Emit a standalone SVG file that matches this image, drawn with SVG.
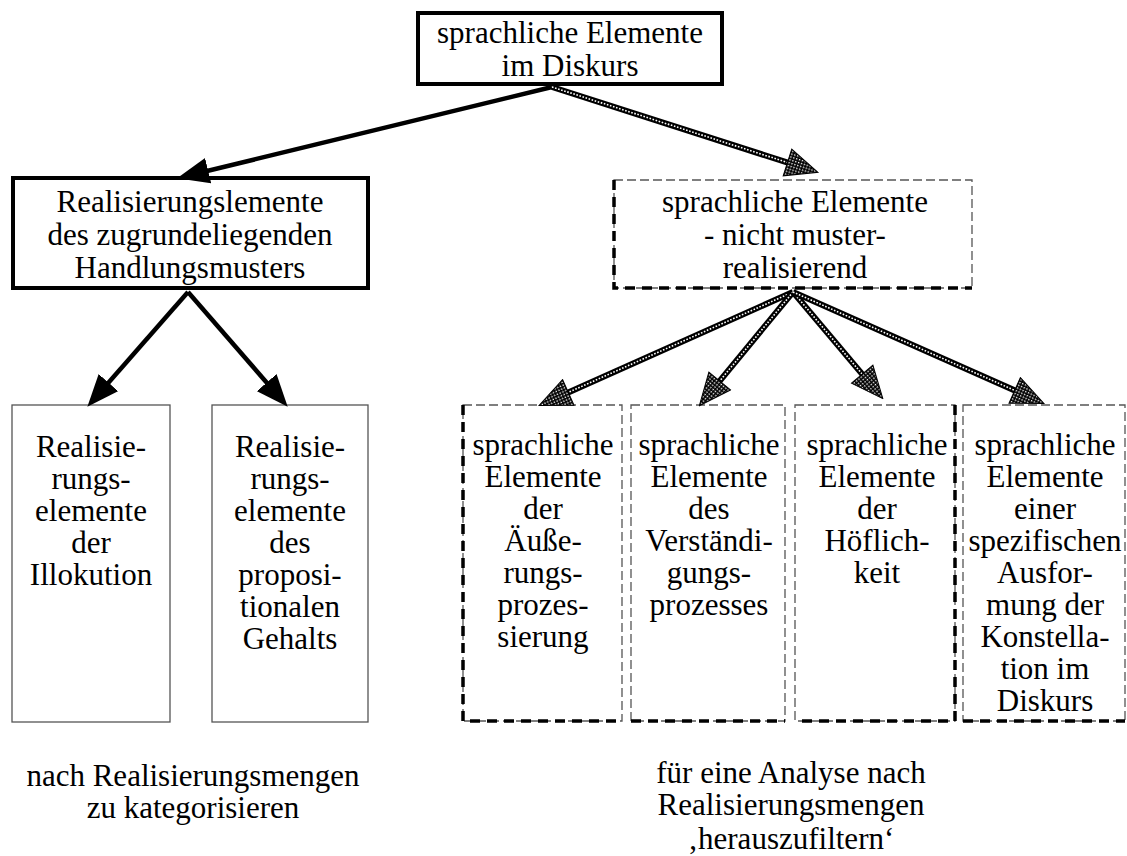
<svg xmlns="http://www.w3.org/2000/svg" width="1127" height="856" viewBox="0 0 1127 856" font-family="'Liberation Serif', 'DejaVu Serif', serif">
<style>
text{font-family:'Liberation Serif','DejaVu Serif',serif;font-size:31px;fill:#000;text-anchor:middle}
.bold{fill:#fff;stroke:#000;stroke-width:4}
.thin{fill:#fff;stroke:#555;stroke-width:1.3}
.dthin{fill:#fff;stroke:#555;stroke-width:1.3;stroke-dasharray:9 4}
.dthick{fill:none;stroke:#000;stroke-width:3.5;stroke-dasharray:10 7}
.solid{fill:none;stroke:#000;stroke-width:4.5}
.hb{fill:none;stroke:#000;stroke-width:6}
.hw{fill:none;stroke:#fff;stroke-width:1.6;stroke-dasharray:1.6 1.6}
</style>
<defs>
<pattern id="chk" width="3" height="3" patternUnits="userSpaceOnUse"><rect width="3" height="3" fill="#000"/><rect x="1" y="1" width="1.4" height="1.4" fill="#fff"/></pattern>
<marker id="ah" markerUnits="userSpaceOnUse" viewBox="0 0 32 26" markerWidth="32" markerHeight="26" refX="16" refY="13" orient="auto"><path d="M0,0 L32,13 L0,26 z" fill="#000"/></marker>
<marker id="ahh" markerUnits="userSpaceOnUse" viewBox="-1 -1 34 30" markerWidth="34" markerHeight="30" refX="16" refY="14" orient="auto"><path d="M0,0 L32,14 L0,28 z" fill="url(#chk)" stroke="#000" stroke-width="1"/></marker>
</defs>
<g id="n-top">
<rect class="bold" x="418" y="13" width="304" height="71"/>
<text x="570" y="43">sprachliche Elemente</text>
<text x="570" y="76">im Diskurs</text>
</g>
<g id="n-muster">
<rect class="bold" x="13" y="178" width="355" height="110"/>
<text x="190" y="212">Realisierungslemente</text>
<text x="190" y="245">des zugrundeliegenden</text>
<text x="190" y="278">Handlungsmusters</text>
</g>
<g id="n-nicht">
<rect class="dthin" x="614" y="180" width="358" height="108"/>
<path class="dthick" d="M614,180 V288 H972"/>
<text x="795" y="212">sprachliche Elemente</text>
<text x="795" y="245">- nicht muster-</text>
<text x="795" y="278">realisierend</text>
</g>
<g id="n-illok">
<rect class="thin" x="12" y="405" width="158" height="317"/>
<text x="91" y="457">Realisie-</text>
<text x="91" y="489">rungs-</text>
<text x="91" y="521">elemente</text>
<text x="91" y="553">der</text>
<text x="91" y="585">Illokution</text>
</g>
<g id="n-prop">
<rect class="thin" x="212" y="405" width="156" height="317"/>
<text x="290" y="457">Realisie-</text>
<text x="290" y="489">rungs-</text>
<text x="290" y="521">elemente</text>
<text x="290" y="553">des</text>
<text x="290" y="585">proposi-</text>
<text x="290" y="617">tionalen</text>
<text x="290" y="649">Gehalts</text>
</g>
<g id="n-aeuss">
<rect class="dthin" x="463" y="405" width="159" height="316"/>
<path class="dthick" d="M463,405 V721 H622"/>
<text x="543" y="455">sprachliche</text>
<text x="543" y="487">Elemente</text>
<text x="543" y="519">der</text>
<text x="543" y="551">Äuße-</text>
<text x="543" y="583">rungs-</text>
<text x="543" y="615">prozes-</text>
<text x="543" y="647">sierung</text>
</g>
<g id="n-verst">
<rect class="dthin" x="631" y="405" width="154" height="316"/>
<path class="dthick" d="M631,721 H785"/>
<text x="709" y="455">sprachliche</text>
<text x="709" y="487">Elemente</text>
<text x="709" y="519">des</text>
<text x="709" y="551">Verständi-</text>
<text x="709" y="583">gungs-</text>
<text x="709" y="615">prozesses</text>
</g>
<g id="n-hoefl">
<rect class="dthin" x="795" y="405" width="160" height="316"/>
<path class="dthick" d="M955,405 V721 H795"/>
<text x="877" y="455">sprachliche</text>
<text x="877" y="487">Elemente</text>
<text x="877" y="519">der</text>
<text x="877" y="551">Höflich-</text>
<text x="877" y="583">keit</text>
</g>
<g id="n-spez">
<rect class="dthin" x="963" y="405" width="162" height="316"/>
<path class="dthick" d="M963,721 H1125"/>
<text x="1045" y="455">sprachliche</text>
<text x="1045" y="487">Elemente</text>
<text x="1045" y="519">einer</text>
<text x="1045" y="551">spezifischen</text>
<text x="1045" y="583">Ausfor-</text>
<text x="1045" y="615">mung der</text>
<text x="1045" y="647">Konstella-</text>
<text x="1045" y="679">tion im</text>
<text x="1045" y="711">Diskurs</text>
</g>
<g id="connectors">
<path class="solid" d="M552,87 L192.6,174.5" marker-end="url(#ah)"/>
<path class="solid" d="M188,292 L97.9,394.7" marker-end="url(#ah)"/>
<path class="solid" d="M188,292 L277.2,394.7" marker-end="url(#ah)"/>
<path class="hb" d="M552,87 L802.7,167.4"/>
<path class="hw" d="M552,87 L802.7,167.4" marker-end="url(#ahh)"/>
<path class="hb" d="M793,292 L553.7,398.9"/>
<path class="hw" d="M793,292 L553.7,398.9" marker-end="url(#ahh)"/>
<path class="hb" d="M793,292 L709.5,393.4"/>
<path class="hw" d="M793,292 L709.5,393.4" marker-end="url(#ahh)"/>
<path class="hb" d="M793,292 L872.5,386.4"/>
<path class="hw" d="M793,292 L872.5,386.4" marker-end="url(#ahh)"/>
<path class="hb" d="M793,292 L1029.3,396.9"/>
<path class="hw" d="M793,292 L1029.3,396.9" marker-end="url(#ahh)"/>
</g>
<g id="captions">
<text x="193" y="786">nach Realisierungsmengen</text>
<text x="193" y="818">zu kategorisieren</text>
<text x="791" y="783">für eine Analyse nach</text>
<text x="791" y="815">Realisierungsmengen</text>
<text x="791" y="849">‚herauszufiltern‘</text>
</g>
</svg>
